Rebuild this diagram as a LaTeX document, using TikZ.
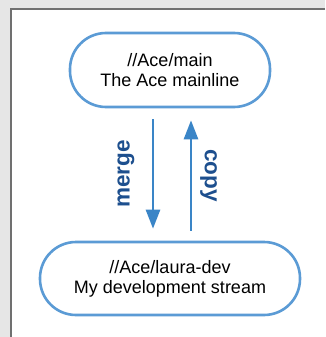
\documentclass[tikz,border=0pt]{standalone}
\usepackage{fontspec}
\setmainfont{Liberation Sans}
\usetikzlibrary{arrows.meta}
\definecolor{bgout}{HTML}{E6E6E6}
\definecolor{frame}{HTML}{707070}
\definecolor{pillc}{HTML}{5B9BD5}
\definecolor{arrc}{HTML}{3A85C7}
\definecolor{labc}{HTML}{1D4F8E}
\tikzset{
  pill/.style={draw=pillc, line width=2.6pt, rounded corners=36pt, fill=white,
    align=center, inner sep=0pt, font=\fontsize{18}{20}\selectfont, text=black},
  flow/.style={draw=arrc, line width=2.6pt, -{Triangle[width=14pt,length=19pt]}},
  lab/.style={font=\fontsize{22.5}{24}\selectfont\bfseries, text=labc, inner sep=0pt}
}
\begin{document}
\begin{tikzpicture}[x=1pt,y=1pt]
  \useasboundingbox (0,0) rectangle (325,-337);
  \fill[bgout] (0,0) rectangle (325,-337);
  \fill[white] (10,-8) rectangle (325,-337);
  \draw[frame, line width=1.6pt] (10.8,-337) -- (10.8,-8.8) -- (325,-8.8);
  \node[pill, minimum width=200pt, minimum height=74pt] (top) at (170,-70)
    {//Ace/main\\The Ace mainline};
  \node[pill, minimum width=260pt, minimum height=73pt] (bot) at (170,-278.5)
    {//Ace/laura-dev\\My development stream};
  \draw[flow] ([xshift=-17pt,yshift=-11pt]top.south) -- ([xshift=-17pt,yshift=12pt]bot.north);
  \draw[flow] ([xshift=21pt,yshift=10pt]bot.north) -- ([xshift=21pt,yshift=-12pt]top.south);
  \node[lab, rotate=90] (merge) at (126,-174) {merge};
  \node[lab, rotate=-90] (copy) at (208.5,-175.5) {copy};
\end{tikzpicture}
\end{document}
